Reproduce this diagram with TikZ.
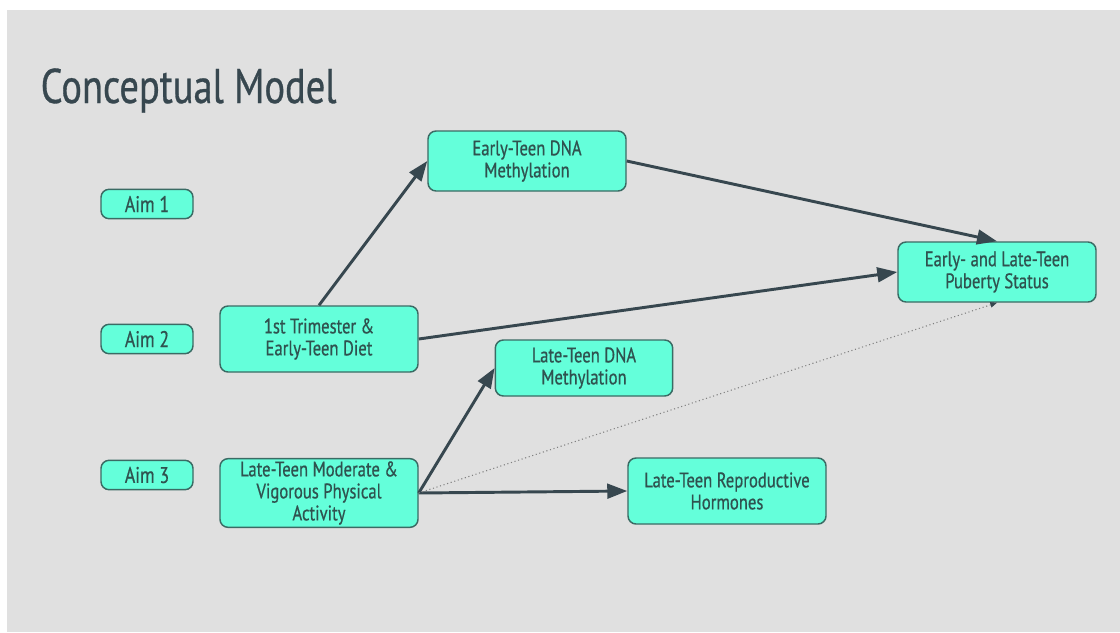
\documentclass[tikz,border=0pt]{standalone}
\usepackage{fontspec}
\setmainfont{PT Sans}[FakeStretch=0.79,FakeBold=0.6]
\usepackage{tikz}
\usetikzlibrary{positioning,arrows.meta}
\definecolor{slide}{HTML}{E0E0E0}
\definecolor{aqua}{HTML}{64FFDA}
\definecolor{rim}{HTML}{3B6B64}
\definecolor{ink}{HTML}{37474F}
\definecolor{boxink}{HTML}{2F524F}

\begin{document}
\begin{tikzpicture}[x=0.75pt,y=-0.75pt,>={Triangle[length=15pt,width=11pt]},
    box/.style={draw=rim,line width=1.1pt,fill=aqua,rounded corners=6pt,text=boxink,
      align=center,inner sep=2pt,font=\fontsize{15.8}{16.5}\selectfont},
    aim/.style={box,minimum width=69pt,minimum height=22pt,font=\fontsize{17}{18}\selectfont},
    wide/.style={box,minimum width=148.5pt},
    flow/.style={->,draw=ink,line width=2.2pt},
    weak/.style={-{Triangle[length=5pt,width=4pt,color=ink]},draw=gray,line width=0.8pt,dotted}]

    \useasboundingbox (0,0) rectangle (1120,632);
    \fill[slide] (7,10) rectangle (1120,632);

    \node[anchor=base west,text=ink,font=\fontsize{36.5}{40}\selectfont] (T) at (36,103) {Conceptual Model};

    % aims
    \node[aim] (A1) at (147,204) {Aim 1};
    \node[aim] (A2) at (147,339) {Aim 2};
    \node[aim] (A3) at (147,475) {Aim 3};

    % exposures and outcomes
    \node[wide,minimum height=49.5pt] (D) at (319,339) {1st Trimester \&\\ Early-Teen Diet};
    \node[wide,minimum height=50pt]   (P) at (319,493) {Late-Teen Moderate \&\\ Vigorous Physical\\ Activity};
    \node[wide,minimum height=45pt]   (E) at (527,161) {Early-Teen DNA\\ Methylation};
    \node[box,minimum width=133pt,minimum height=42pt] (L) at (584,368) {Late-Teen DNA\\ Methylation};
    \node[wide,minimum height=45pt]   (S) at (997,272) {Early- and Late-Teen\\ Puberty Status};
    \node[wide,minimum height=49.5pt] (H) at (727,491) {Late-Teen Reproductive\\ Hormones};

    % paths
    \path
    (D.north) edge[flow] (E.west)
    (E.east)  edge[flow] (S.north)
    (D.east)  edge[flow] (S.west)
    (P.east)  edge[flow] (L.west)
    (P.east)  edge[flow] (H.west)
    (P.east)  edge[weak] (S.south);

\end{tikzpicture}
\end{document}
